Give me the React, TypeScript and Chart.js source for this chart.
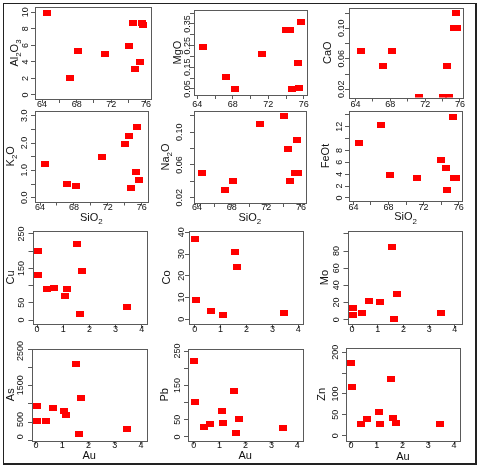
import React, { useEffect, useRef } from "react";
import { Chart, registerables } from "chart.js";
Chart.register(...registerables);

// ---------------- data ----------------
const SIO2 = [64.6, 67.2, 68.2, 71.3, 74.0, 74.5, 74.7, 75.3, 75.5, 75.7];
const AL2O3 = [9.9, 2.0, 5.3, 4.9, 5.9, 8.7, 3.1, 4.0, 8.7, 8.5];
const MGO = [0.245, 0.105, 0.05, 0.21, 0.32, 0.32, 0.05, 0.17, 0.055, 0.36];
const CAO = [0.07, 0.05, 0.07, 0.01, 0.01, 0.05, 0.01, 0.1, 0.12, 0.1];
const K2O = [1.25, 0.49, 0.43, 1.49, 1.96, 2.26, 0.37, 0.95, 2.58, 0.66];
const NA2O = [0.05, 0.03, 0.04, 0.11, 0.12, 0.08, 0.04, 0.05, 0.09, 0.05];
const FEOT = [9.2, 12.2, 3.9, 3.4, 6.45, 5.0, 1.3, 13.6, 3.3, 3.4];

const AU = [0.02, 0.04, 0.38, 0.64, 1.08, 1.13, 1.54, 1.64, 1.73, 3.45];
const CU = [200, 130, 90, 92, 71, 91, 220, 17, 141, 39];
const CO = [37, 9, null, 3.8, 1.8, null, 31, 24, null, 2.9];
const MO = [14, 5.5, 8, 22, 20.6, null, 85, 1, 30, 8];
const AS = [900, 450, 470, 845, 750, 633, 2110, 87, 1128, 233];
const PB = [221, 101, 28, 38, 75, 40, 135, 12, 52, 27];
const ZN = [174, 116, 28, 41, 58, 28, 137, 43, 31, 29];

// tick labels
const SIO2_TICK_LABELS = ["64", "68", "72", "76"];
const AU_TICK_LABELS = ["0", "1", "2", "3", "4"];
const AL2O3_TICKS = ["0", "2", "4", "6", "8", "10"];
const MGO_TICKS = ["0.05", "0.15", "0.25", "0.35"];
const CAO_TICKS = ["0.02", "0.06", "0.10"];
const K2O_TICKS = ["0.0", "1.0", "2.0", "3.0"];
const NA2O_TICKS = ["0.02", "0.06", "0.10"];
const FEOT_TICKS = ["0", "2", "4", "6", "8", "12"];
const CU_TICKS = ["0", "50", "150", "250"];
const CO_TICKS = ["0", "10", "20", "30", "40"];
const MO_TICKS = ["0", "20", "40", "60", "80"];
const AS_TICKS = ["0", "500", "1500", "2500"];
const PB_TICKS = ["0", "50", "150", "250"];
const ZN_TICKS = ["0", "50", "100", "200"];

// titles: [text, isSubscript]
type Part = [string, boolean];
const T = (...p: Part[]) => p;
const TITLES = {
  al: T(["Al", false], ["2", true], ["O", false], ["3", true]),
  mg: T(["MgO", false]),
  ca: T(["CaO", false]),
  k: T(["K", false], ["2", true], ["O", false]),
  na: T(["Na", false], ["2", true], ["O", false]),
  fe: T(["FeOt", false]),
  cu: T(["Cu", false]),
  co: T(["Co", false]),
  mo: T(["Mo", false]),
  as: T(["As", false]),
  pb: T(["Pb", false]),
  zn: T(["Zn", false]),
  sio2: T(["SiO", false], ["2", true]),
  au: T(["Au", false]),
};

const W = 480;
const H = 471;
const TL = 4; // tick length
const FONT = '"Liberation Sans", Arial, sans-serif';
const TICK_FONT = 9;
const TITLE_FONT = 11;
const TEXT = "#111111";
const BOXC = "#5a5a5a";

type Spec = {
  xs: number[];
  ys: (number | null)[];
  title: Part[];
  box: [number, number, number, number];
  xr: [number, number];
  yr: [number, number];
  xStep: number;
  yStep: number;
  xLabels: string[];
  yLabels: string[];
  yLabX: number;
  titleX: number;
  xLabY: number;
  xTitle?: Part[];
  xTitleY?: number;
};

const PANELS: Spec[] = [
  { xs: SIO2, ys: AL2O3, title: TITLES.al, box: [35, 7, 151, 99], xr: [63.19, 76.58], yr: [-0.484, 10.64], xStep: 2, yStep: 2, xLabels: SIO2_TICK_LABELS, yLabels: AL2O3_TICKS, yLabX: 25.5, titleX: 14, xLabY: 104.5 },
  { xs: SIO2, ys: MGO, title: TITLES.mg, box: [194, 10, 306.5, 95], xr: [63.63, 76.31], yr: [0.0223, 0.4146], xStep: 2, yStep: 0.05, xLabels: SIO2_TICK_LABELS, yLabels: MGO_TICKS, yLabX: 187.5, titleX: 177, xLabY: 104.5 },
  { xs: SIO2, ys: CAO, title: TITLES.ca, box: [349, 8, 462.5, 97.5], xr: [63.26, 76.29], yr: [0.00925, 0.1266], xStep: 2, yStep: 0.02, xLabels: SIO2_TICK_LABELS, yLabels: CAO_TICKS, yLabX: 341.5, titleX: 327, xLabY: 104.5 },
  { xs: SIO2, ys: K2O, title: TITLES.k, box: [35, 111, 147.5, 201.5], xr: [63.41, 76.68], yr: [-0.139, 3.172], xStep: 2, yStep: 0.5, xLabels: SIO2_TICK_LABELS, yLabels: K2O_TICKS, yLabX: 25, titleX: 10, xLabY: 208, xTitle: TITLES.sio2, xTitleY: 217 },
  { xs: SIO2, ys: NA2O, title: TITLES.na, box: [194, 111, 305.5, 203], xr: [63.65, 76.52], yr: [0.0135, 0.126], xStep: 2, yStep: 0.02, xLabels: SIO2_TICK_LABELS, yLabels: NA2O_TICKS, yLabX: 180, titleX: 165, xLabY: 208, xTitle: TITLES.sio2, xTitleY: 217 },
  { xs: SIO2, ys: FEOT, title: TITLES.fe, box: [349, 111, 462, 201], xr: [63.5, 76.38], yr: [-0.505, 14.64], xStep: 2, yStep: 2, xLabels: SIO2_TICK_LABELS, yLabels: FEOT_TICKS, yLabX: 340, titleX: 325, xLabY: 208, xTitle: TITLES.sio2, xTitleY: 216.5 },
  { xs: AU, ys: CU, title: TITLES.cu, box: [32.5, 231, 146.5, 324], xr: [-0.176, 4.184], yr: [-11.6, 258.7], xStep: 1, yStep: 50, xLabels: AU_TICK_LABELS, yLabels: CU_TICKS, yLabX: 21.5, titleX: 10, xLabY: 330 },
  { xs: AU, ys: CO, title: TITLES.co, box: [189, 231, 303, 324], xr: [-0.22, 4.18], yr: [-2.16, 40.6], xStep: 1, yStep: 10, xLabels: AU_TICK_LABELS, yLabels: CO_TICKS, yLabX: 181.5, titleX: 166.5, xLabY: 330 },
  { xs: AU, ys: MO, title: TITLES.mo, box: [347.5, 231, 461.5, 324], xr: [-0.18, 4.26], yr: [-5.0, 103.3], xStep: 1, yStep: 20, xLabels: AU_TICK_LABELS, yLabels: MO_TICKS, yLabX: 336.5, titleX: 324, xLabY: 329.5 },
  { xs: AU, ys: AS, title: TITLES.as, box: [32, 349, 146.5, 440.5], xr: [-0.152, 4.21], yr: [-111, 2555], xStep: 1, yStep: 500, xLabels: AU_TICK_LABELS, yLabels: AS_TICKS, yLabX: 21, titleX: 10, xLabY: 445.5, xTitle: TITLES.au, xTitleY: 455 },
  { xs: AU, ys: PB, title: TITLES.pb, box: [188, 349, 302.5, 440.5], xr: [-0.22, 4.2], yr: [-10.5, 256], xStep: 1, yStep: 50, xLabels: AU_TICK_LABELS, yLabels: PB_TICKS, yLabX: 177.5, titleX: 164.5, xLabY: 445.5, xTitle: TITLES.au, xTitleY: 455 },
  { xs: AU, ys: ZN, title: TITLES.zn, box: [346, 348, 460, 440.5], xr: [-0.19, 4.23], yr: [-11.5, 210.3], xStep: 1, yStep: 50, xLabels: AU_TICK_LABELS, yLabels: ZN_TICKS, yLabX: 336, titleX: 321.5, xLabY: 445.5, xTitle: TITLES.au, xTitleY: 456 },
];

function drawRich(ctx: CanvasRenderingContext2D, parts: Part[], cx: number, cy: number, rot: number, size: number) {
  ctx.save();
  ctx.translate(cx, cy);
  ctx.rotate(rot);
  const sub = size * 0.72;
  let total = 0;
  const widths: number[] = [];
  for (const [t, s] of parts) {
    ctx.font = `${s ? sub : size}px ${FONT}`;
    const w = ctx.measureText(t).width;
    widths.push(w);
    total += w;
  }
  let x = -total / 2;
  const base = size * 0.36;
  ctx.textAlign = "left";
  ctx.textBaseline = "alphabetic";
  ctx.fillStyle = TEXT;
  parts.forEach(([t, s], i) => {
    ctx.font = `${s ? sub : size}px ${FONT}`;
    ctx.fillText(t, x, s ? base + size * 0.28 : base);
    x += widths[i];
  });
  ctx.restore();
}

function makeMarker() {
  const c = document.createElement("canvas");
  c.width = 8;
  c.height = 6;
  const g = c.getContext("2d")!;
  g.fillStyle = "#ff0000";
  g.fillRect(0, 0, 8, 6);
  return c;
}

export default function App() {
  const refs = useRef<(HTMLCanvasElement | null)[]>([]);

  useEffect(() => {
    const marker = makeMarker();
    const charts: Chart[] = [];
    PANELS.forEach((p, idx) => {
      const cv = refs.current[idx];
      if (!cv) return;
      const [L, Tp, R, B] = p.box;
      const data = p.xs
        .map((x, i) => ({ x, y: p.ys[i] }))
        .filter((d) => d.y !== null && d.y !== undefined) as { x: number; y: number }[];
      const panelPlugin = {
        id: "panelDecor" + idx,
        afterDraw(chart: any) {
          const ctx = chart.ctx as CanvasRenderingContext2D;
          const a = chart.chartArea;
          const xs = chart.scales.x;
          const ys = chart.scales.y;
          ctx.save();
          ctx.strokeStyle = BOXC;
          ctx.lineWidth = 1;
          ctx.strokeRect(Math.round(a.left) + 0.5, Math.round(a.top) + 0.5, Math.round(a.right) - Math.round(a.left), Math.round(a.bottom) - Math.round(a.top));
          ctx.fillStyle = TEXT;
          ctx.font = `${TICK_FONT}px ${FONT}`;
          ctx.textAlign = "center";
          ctx.textBaseline = "middle";
          for (const lab of p.xLabels) {
            ctx.fillText(lab, xs.getPixelForValue(parseFloat(lab)), p.xLabY);
          }
          for (const lab of p.yLabels) {
            const py = ys.getPixelForValue(parseFloat(lab));
            ctx.save();
            ctx.translate(p.yLabX, py);
            ctx.rotate(-Math.PI / 2);
            ctx.fillText(lab, 0, 0);
            ctx.restore();
          }
          ctx.restore();
          drawRich(ctx, p.title, p.titleX, (a.top + a.bottom) / 2, -Math.PI / 2, TITLE_FONT);
          if (p.xTitle && p.xTitleY) {
            drawRich(ctx, p.xTitle, (a.left + a.right) / 2, p.xTitleY, 0, TITLE_FONT);
          }
        },
      };
      const scaleCommon = {
        type: "linear" as const,
        grid: { display: true, drawOnChartArea: false, drawTicks: true, tickLength: TL, tickColor: BOXC, lineWidth: 1 },
        border: { display: false },
      };
      const chart = new Chart(cv, {
        type: "scatter",
        data: {
          datasets: [
            {
              data,
              pointStyle: marker as any,
              backgroundColor: "#ff0000",
              borderColor: "#ff0000",
              pointRadius: 4,
            },
          ],
        },
        options: {
          animation: false,
          responsive: false,
          maintainAspectRatio: false,
          devicePixelRatio: 1,
          events: [],
          layout: { padding: { left: L - TL, top: Tp, right: W - R, bottom: H - B - TL } },
          plugins: { legend: { display: false }, tooltip: { enabled: false } },
          scales: {
            x: {
              ...scaleCommon,
              position: "bottom",
              min: p.xr[0],
              max: p.xr[1],
              ticks: { display: false, stepSize: p.xStep, includeBounds: false },
              afterFit: (s: any) => {
                s.height = TL;
              },
            },
            y: {
              ...scaleCommon,
              position: "left",
              min: p.yr[0],
              max: p.yr[1],
              ticks: { display: false, stepSize: p.yStep, includeBounds: false },
              afterFit: (s: any) => {
                s.width = TL;
              },
            },
          },
        } as any,
        plugins: [panelPlugin],
      });
      charts.push(chart);
    });
    return () => charts.forEach((c) => c.destroy());
  }, []);

  return (
    <div style={{ position: "absolute", left: 0, top: 0, width: W, height: H, background: "#fff", overflow: "hidden" }}>
      <div
        style={{
          position: "absolute",
          left: 3,
          top: 3,
          width: 471,
          height: 459,
          borderTop: "1px solid #222",
          borderLeft: "1px solid #222",
          borderRight: "2px solid #222",
          borderBottom: "2px solid #222",
        }}
      />
      {PANELS.map((_, i) => (
        <canvas
          key={i}
          ref={(el) => {
            refs.current[i] = el;
          }}
          width={W}
          height={H}
          style={{ position: "absolute", left: 0, top: 0, width: W, height: H }}
        />
      ))}
    </div>
  );
}
